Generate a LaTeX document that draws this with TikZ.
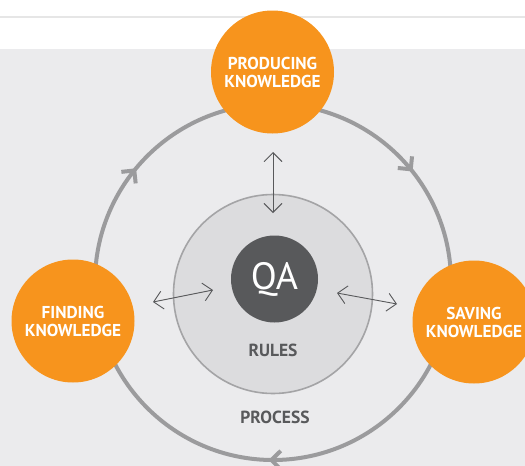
\documentclass[tikz,border=0pt]{standalone}
\usepackage{fontspec}
\setmainfont{PT Sans}
\usetikzlibrary{arrows.meta,calc}
\definecolor{qaorange}{HTML}{F7941D}
\definecolor{qadark}{HTML}{58595B}
\definecolor{qabg}{HTML}{EBEBED}
\definecolor{qaring}{HTML}{9B9B9D}
\definecolor{qainner}{HTML}{DCDCDE}
\definecolor{qainnerline}{HTML}{A4A4A6}
\definecolor{qarule}{HTML}{E6E6E6}
\begin{document}
\begin{tikzpicture}[x=1pt,y=-1pt,
  stage/.style={circle, fill=qaorange, minimum size=123pt, inner sep=0pt,
    text=white, font=\bfseries\fontsize{17.2}{18}\selectfont, align=center},
  caption/.style={text=qadark, font=\bfseries\fontsize{17.5}{18}\selectfont},
  link/.style={draw=qadark, line width=0.9pt,
    {Straight Barb[length=9pt,width=18pt]}-{Straight Barb[length=9pt,width=18pt]}},
  ringtip/.style={draw=qaring, line width=4pt, line join=miter, line cap=butt}]
\useasboundingbox (0,0) rectangle (525,466);
% page background and header rule
\fill[white] (0,0) rectangle (525,48.5);
\fill[qabg] (0,48.5) rectangle (525,466);
\draw[qarule, line width=2pt] (0,16.5) -- (525,16.5);

% process ring with its direction marks (clockwise)
\coordinate (ring) at (273,282);
\draw[qaring, line width=4pt] (ring) circle[radius=178];
\foreach \a in {218.8, 320.7, 90.5} {
  \begin{scope}[shift={(ring)}, rotate=-\a]
    \draw[ringtip] (178,0) ++(225:13) -- (178,0) -- ++(315:13);
  \end{scope}
}

% rules disc and QA core
\node[circle, fill=qainner, draw=qainnerline, line width=1.6pt,
      minimum size=199pt, inner sep=0pt] (rules) at (273,294) {};
\node[circle, fill=qadark, minimum size=87pt, inner sep=0pt, text=white,
      font=\fontsize{38}{40}\selectfont] (qa) at (274.5,279) {QA};
\node[caption] (rulestext) at (273,350) {RULES};
\node[caption] (processtext) at (275,417) {PROCESS};

% knowledge stages
\node[stage] (produce) at (272.5,72) {PRODUCING\\KNOWLEDGE};
\node[stage] (find) at (73,321) {FINDING\\KNOWLEDGE};
\node[stage] (save) at (474,322) {SAVING\\KNOWLEDGE};

% exchanges between the core and each stage
\coordinate (pA) at (273,152);
\coordinate (pB) at (273,213);
\coordinate (fA) at (153,302);
\coordinate (fB) at (213,290);
\coordinate (sA) at (337,293);
\coordinate (sB) at (397,304);
\draw[link] (pA) -- (pB);
\draw[link] (fA) -- (fB);
\draw[link] (sA) -- (sB);
\end{tikzpicture}
\end{document}
